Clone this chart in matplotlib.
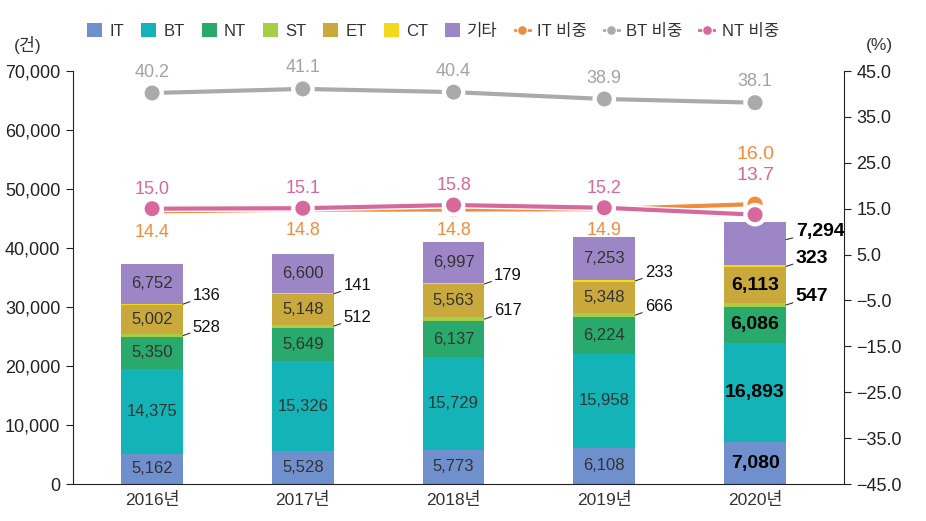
import matplotlib
matplotlib.use("Agg")
import matplotlib.pyplot as plt
import matplotlib.patheffects as pe
from matplotlib.lines import Line2D
from matplotlib.patches import Patch
import numpy as np

plt.rcParams["font.family"] = ["Liberation Sans", "Noto Sans CJK KR", "DejaVu Sans"]

# ---------------- 데이터 ----------------
years = ["2016년", "2017년", "2018년", "2019년", "2020년"]
series_names = ["IT", "BT", "NT", "ST", "ET", "CT", "기타"]
it_cnt = [5162, 5528, 5773, 6108, 7080]
bt_cnt = [14375, 15326, 15729, 15958, 16893]
nt_cnt = [5350, 5649, 6137, 6224, 6086]
st_cnt = [528, 512, 617, 666, 547]
et_cnt = [5002, 5148, 5563, 5348, 6113]
ct_cnt = [136, 141, 179, 233, 323]
etc_cnt = [6752, 6600, 6997, 7253, 7294]

it_ratio = [14.4, 14.8, 14.8, 14.9, 16.0]
bt_ratio = [40.2, 41.1, 40.4, 38.9, 38.1]
nt_ratio = [15.0, 15.1, 15.8, 15.2, 13.7]

left_ticks = list(range(0, 70001, 10000))
right_ticks = list(np.arange(-45, 46, 10))

# ---------------- 스타일 ----------------
bar_colors = ["#6f8fcd", "#14b3b7", "#29a96b", "#a8cd46", "#c9a93b", "#f3d81c", "#9d86c6"]
line_colors = {"IT": "#f08c3c", "BT": "#aaaaaa", "NT": "#d6689b"}
TXT = "#333333"

counts = [it_cnt, bt_cnt, nt_cnt, st_cnt, et_cnt, ct_cnt, etc_cnt]
x = np.arange(len(years))
W = 0.41

fig = plt.figure(figsize=(9.26, 5.21), dpi=100)
ax = fig.add_axes([0.0788, 0.071, 0.8326, 0.7927])
ax2 = ax.twinx()

bottom = np.zeros(len(years))
seg = []
for vals, col in zip(counts, bar_colors):
    vals = np.array(vals, dtype=float)
    ax.bar(x, vals, W, bottom=bottom, color=col, edgecolor="none", zorder=2)
    seg.append((bottom.copy(), vals))
    bottom += vals

# 막대 내부 레이블 (IT, BT, NT, ET, 기타)
for k in [0, 1, 2, 4, 6]:
    b, v = seg[k]
    for i in range(len(years)):
        if i == 4 and k == 6:
            continue
        last = i == 4
        ax.text(x[i], b[i] + v[i] / 2, f"{int(v[i]):,}", ha="center", va="center",
                fontsize=14 if last else 12, color="black" if last else TXT,
                fontweight="semibold" if last else "normal", zorder=3)

# 작은 항목 (ST, CT, 2020 기타) — 막대 오른쪽에 지시선
def side_label(i, yval, txt):
    last = i == 4
    ax.annotate(txt, xy=(x[i] + W / 2, yval), xytext=(7, 6), textcoords="offset points",
                ha="left", va="center", fontsize=14 if last else 12,
                color="black" if last else "#111111",
                fontweight="semibold" if last else "normal",
                arrowprops=dict(arrowstyle="-", color="#333333", lw=0.8,
                                shrinkA=0, shrinkB=0), zorder=3)

for i in range(len(years)):
    b, v = seg[3]
    side_label(i, b[i] + v[i] / 2, f"{st_cnt[i]:,}")
    b, v = seg[5]
    side_label(i, b[i] + v[i] / 2, f"{ct_cnt[i]:,}")
b, v = seg[6]
side_label(4, b[4] + v[4] * 0.6, f"{etc_cnt[4]:,}")

ax.set_xlim(-0.525, 4.59)
ax.set_ylim(0, 70000)
ax.set_yticks(left_ticks)
ax.set_yticklabels([f"{t:,}" for t in left_ticks])
ax.set_xticks(x)
ax.set_xticklabels(years)
ax.tick_params(axis="x", length=0, labelsize=12.5, colors=TXT, pad=6)
ax.tick_params(axis="y", length=5, width=0.8, labelsize=13, colors="#222222", pad=4)
for sp in ["top", "right"]:
    ax.spines[sp].set_visible(False)
ax.spines["left"].set_color("#222222")
ax.spines["bottom"].set_color("#222222")

# ---------------- 비중 선 ----------------
stroke = [pe.Stroke(linewidth=5, foreground="white"), pe.Normal()]
for key, vals in [("BT", bt_ratio), ("IT", it_ratio), ("NT", nt_ratio)]:
    ax2.plot(x, vals, color=line_colors[key], lw=3, marker="o", ms=12,
             mec="white", mew=1.2, path_effects=stroke, zorder=4)

for i in range(len(years)):
    ax2.annotate(f"{bt_ratio[i]:.1f}", (x[i], bt_ratio[i]), xytext=(0, 9),
                 textcoords="offset points", ha="center", va="bottom",
                 fontsize=13, color="#a3a3a3")
    if i < 4:
        ax2.annotate(f"{nt_ratio[i]:.1f}", (x[i], nt_ratio[i]), xytext=(0, 8),
                     textcoords="offset points", ha="center", va="bottom",
                     fontsize=13, color=line_colors["NT"])
        ax2.annotate(f"{it_ratio[i]:.1f}", (x[i], it_ratio[i]), xytext=(0, -9),
                     textcoords="offset points", ha="center", va="top",
                     fontsize=13, color=line_colors["IT"])
    else:
        ax2.annotate(f"{it_ratio[i]:.1f}", (x[i], it_ratio[i]), xytext=(0, 36),
                     textcoords="offset points", ha="center", va="center",
                     fontsize=14, color=line_colors["IT"])
        ax2.annotate(f"{nt_ratio[i]:.1f}", (x[i], nt_ratio[i]), xytext=(0, 28),
                     textcoords="offset points", ha="center", va="center",
                     fontsize=14, color=line_colors["NT"])

ax2.set_ylim(-45, 45)
ax2.set_yticks(right_ticks)
ax2.set_yticklabels([f"{t:.1f}".replace("-", "\u2212") for t in right_ticks])
ax2.tick_params(axis="y", length=5, width=0.8, labelsize=13, colors="#222222", pad=4)
for sp in ["top", "left", "bottom"]:
    ax2.spines[sp].set_visible(False)
ax2.spines["right"].set_color("#222222")

# ---------------- 범례 ----------------
handles = [Patch(facecolor=c, edgecolor="none") for c in bar_colors]
labels = list(series_names)
for key in ["IT", "BT", "NT"]:
    handles.append(Line2D([], [], color=line_colors[key], lw=2, marker="o", ms=7,
                          mec="white", mew=0.8))
    labels.append(f"{key} 비중")
fig.legend(handles, labels, loc="center left", bbox_to_anchor=(0.078, 0.94),
           ncol=10, frameon=False, fontsize=12, handlelength=0.9, handleheight=0.9,
           columnspacing=1.0, handletextpad=0.45, labelcolor=TXT)

fig.text(0.015, 0.913, "(건)", fontsize=12.5, color=TXT, ha="left", va="center")
fig.text(0.935, 0.913, "(%)", fontsize=12.5, color=TXT, ha="left", va="center")

fig.savefig("out.png", dpi=100)
